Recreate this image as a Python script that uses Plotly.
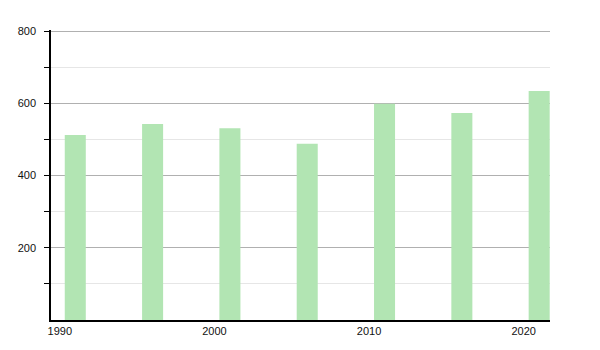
import plotly.graph_objects as go

years = [1991, 1996, 2001, 2006, 2011, 2016, 2021]
values = [512, 543, 531, 488, 599, 573, 634]
x_tick_vals = [1990, 2000, 2010, 2020]
x_tick_text = ["1990", "2000", "2010", "2020"]
y_tick_vals = [200, 400, 600, 800]
y_tick_text = ["200", "400", "600", "800"]

fig = go.Figure(
    go.Bar(
        x=years,
        y=values,
        width=1.36,
        marker=dict(color="#b2e5b3", line=dict(width=0)),
        hoverinfo="x+y",
    )
)

fig.update_layout(
    width=600,
    height=350,
    margin=dict(l=51, r=50, t=30, b=30),
    paper_bgcolor="white",
    plot_bgcolor="white",
    showlegend=False,
    font=dict(family="Liberation Sans, Arial, sans-serif", size=11, color="#111111"),
)

fig.update_xaxes(
    range=[1989.43, 2021.70],
    tickvals=x_tick_vals,
    ticktext=x_tick_text,
    showgrid=False,
    zeroline=False,
    showline=True,
    linecolor="black",
    linewidth=1.5,
    ticks="",
    tickfont=dict(size=11, color="#111111"),
)

fig.update_yaxes(
    range=[0, 803],
    tickvals=y_tick_vals,
    ticktext=y_tick_text,
    showgrid=True,
    gridcolor="#b0b0b0",
    gridwidth=1,
    zeroline=False,
    showline=True,
    linecolor="black",
    linewidth=1.5,
    ticks="outside",
    ticklen=5,
    tickcolor="black",
    ticklabelstandoff=6,
    tickfont=dict(size=11, color="#111111"),
    minor=dict(
        tickvals=[100, 300, 500, 700],
        showgrid=True,
        gridcolor="#e6e6e6",
        gridwidth=1,
        ticks="outside",
        ticklen=5,
        tickcolor="black",
    ),
)

fig.write_html("out.html")
